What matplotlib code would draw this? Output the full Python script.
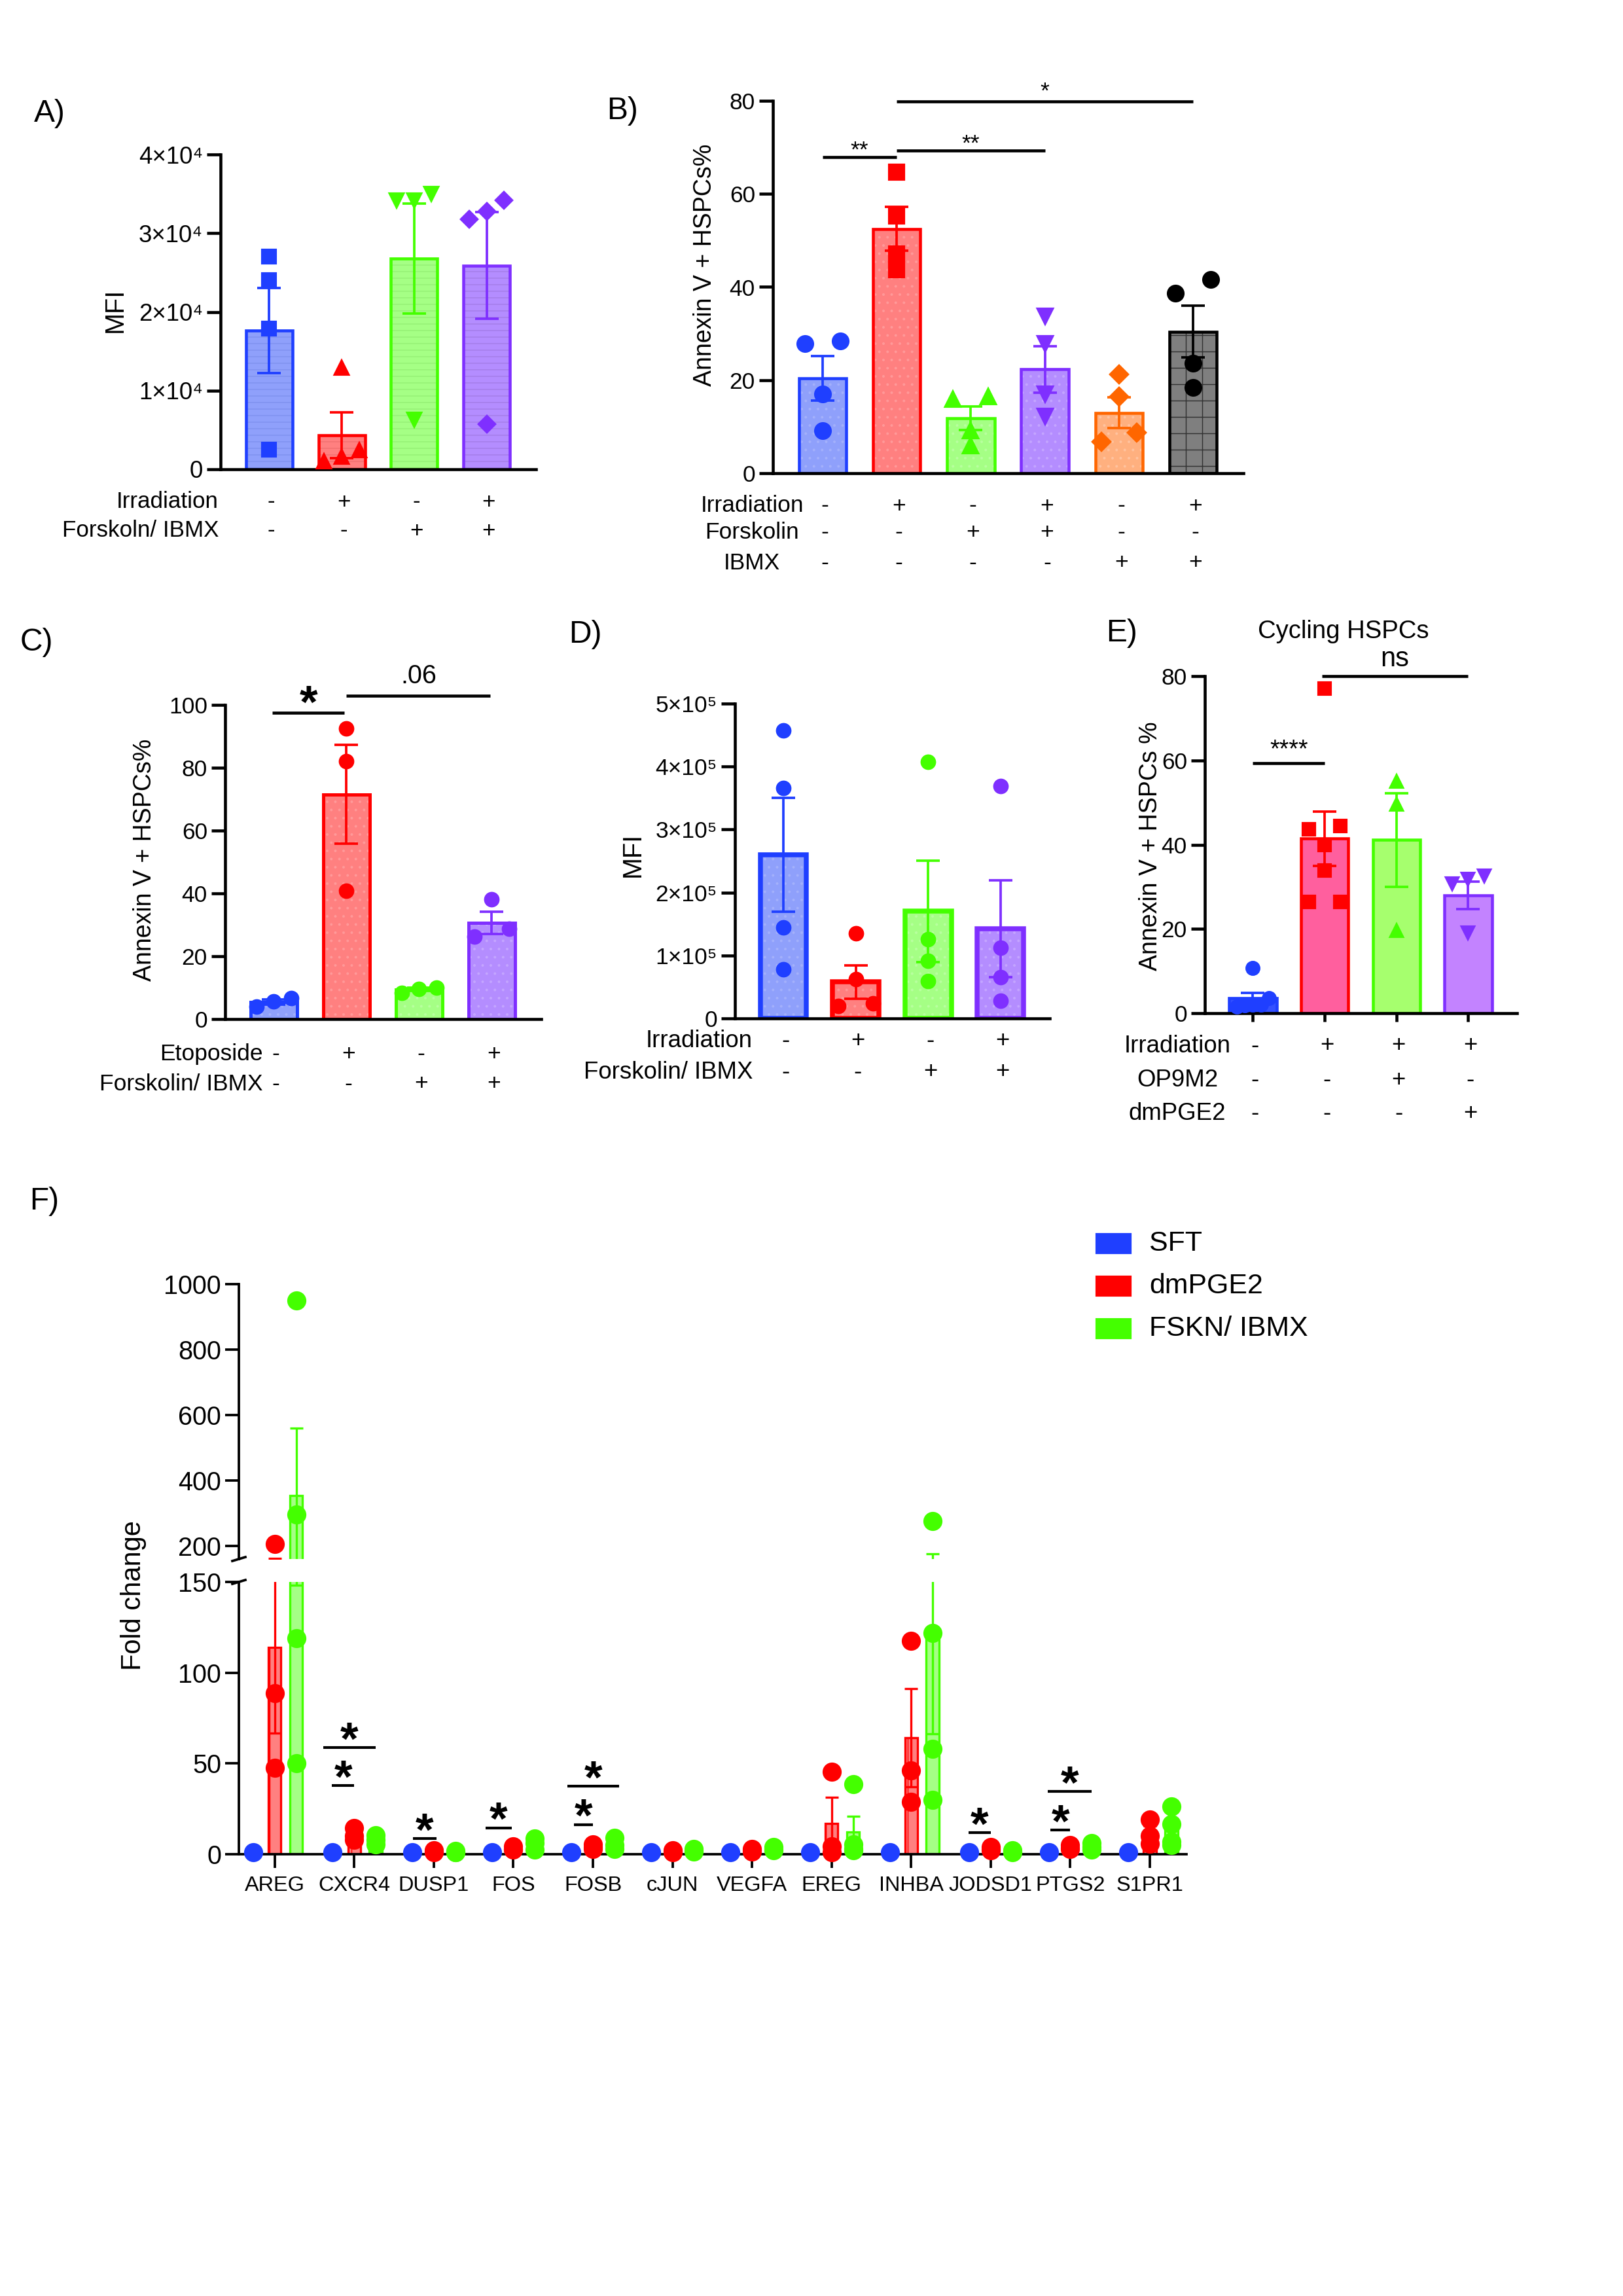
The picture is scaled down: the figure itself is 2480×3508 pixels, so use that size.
import numpy as np
import matplotlib
matplotlib.use("Agg")
import matplotlib.pyplot as plt
from matplotlib.transforms import blended_transform_factory
from matplotlib.patches import Rectangle

plt.rcParams['font.family'] = ['Liberation Sans', 'DejaVu Sans']
plt.rcParams['hatch.linewidth'] = 0.35

W, H = 2480, 3508
fig = plt.figure(figsize=(W / 300, H / 300), dpi=300)


def fx(px):
    return px / W


def fy(py):
    return 1 - py / H


def add_ax(l, t, r, b):
    return fig.add_axes([l / W, 1 - b / H, (r - l) / W, (b - t) / H])


# ---------------- data ----------------
# A) MFI
a_means = [1.76e4, 0.43e4, 2.68e4, 2.59e4]
a_sems = [0.54e4, 0.29e4, 0.70e4, 0.68e4]
a_points = [[2.70e4, 2.40e4, 1.79e4, 0.25e4],
            [1.29e4, 0.24e4, 0.10e4, 0.16e4],
            [3.50e4, 3.42e4, 3.42e4, 0.63e4],
            [3.28e4, 3.42e4, 3.18e4, 0.57e4]]
a_rows = ['Irradiation', 'Forskoln/ IBMX']
a_signs = [['-', '+', '-', '+'], ['-', '-', '+', '+']]

# B) Annexin V+ HSPCs %
b_means = [20.4, 52.5, 11.8, 22.3, 13.0, 30.4]
b_sems = [4.75, 4.7, 2.5, 5.0, 3.3, 5.55]
b_points = [[27.9, 28.4, 17.0, 9.2],
            [64.7, 55.3, 47.1, 43.7],
            [15.9, 16.4, 9.2, 5.9],
            [33.8, 27.9, 17.0, 12.2],
            [21.3, 16.4, 6.8, 8.7],
            [38.6, 41.6, 23.6, 18.4]]
b_rows = ['Irradiation', 'Forskolin', 'IBMX']
b_signs = [['-', '+', '-', '+', '-', '+'],
           ['-', '-', '+', '+', '-', '-'],
           ['-', '-', '-', '-', '+', '+']]

# C) Etoposide
c_means = [5.4, 71.5, 9.4, 30.6]
c_sems = [0.8, 15.75, 0.5, 3.5]
c_points = [[4.0, 6.7, 5.6], [92.5, 82.0, 40.9], [8.4, 9.9, 9.6], [38.2, 26.3, 28.8]]
c_rows = ['Etoposide', 'Forskolin/ IBMX']
c_signs = [['-', '+', '-', '+'], ['-', '-', '+', '+']]

# D) MFI
d_means = [2.60e5, 0.58e5, 1.70e5, 1.42e5]
d_sems = [0.905e5, 0.265e5, 0.805e5, 0.77e5]
d_points = [[4.57e5, 3.66e5, 1.45e5, 0.78e5],
            [1.35e5, 0.62e5, 0.20e5, 0.24e5],
            [4.08e5, 1.26e5, 0.91e5, 0.59e5],
            [3.69e5, 1.12e5, 0.66e5, 0.28e5]]
d_rows = ['Irradiation', 'Forskolin/ IBMX']
d_signs = [['-', '+', '-', '+'], ['-', '-', '+', '+']]

# E) Cycling HSPCs
e_means = [3.6, 41.4, 41.1, 28.0]
e_sems = [1.2, 6.5, 11.05, 3.25]
e_points = [[10.7, 3.5, 2.0, 2.0, 1.8, 1.6],
            [77.1, 43.7, 44.5, 40.0, 33.8, 26.4, 26.4],
            [55.0, 49.6, 19.5],
            [32.6, 31.8, 30.8, 19.1]]
e_rows = ['Irradiation', 'OP9M2', 'dmPGE2']
e_signs = [['-', '+', '+', '+'], ['-', '-', '+', '-'], ['-', '-', '-', '+']]

# F) fold change per gene
genes = ['AREG', 'CXCR4', 'DUSP1', 'FOS', 'FOSB', 'cJUN', 'VEGFA', 'EREG',
         'INHBA', 'JODSD1', 'PTGS2', 'S1PR1']
f_conditions = ['SFT', 'dmPGE2', 'FSKN/ IBMX']
f_sft = [[1.0] for _ in genes]
f_pge = [[206, 88.6, 47.5], [14.6, 10.1, 8.1], [2.0, 1.5, 1.0], [4.5, 3.0, 2.5],
         [5.5, 4.0, 3.0], [2.0, 1.5, 1.0], [3.0, 2.0, 1.5], [45.5, 4.5, 1.0],
         [117.4, 46.0, 29.0], [4.0, 3.0, 2.0], [5.0, 3.5, 3.0], [19.0, 10.0, 5.6]]
f_fsk = [[951, 296, 119, 50], [10.5, 8.0, 5.5], [1.8, 1.2, 1.0], [8.5, 6.0, 2.5],
         [9.0, 5.0, 3.0], [3.0, 2.0, 1.5], [4.0, 3.0, 2.0], [38.5, 5.5, 3.0, 2.0],
         [276, 121.7, 58, 29.8], [2.0, 1.5, 1.0], [6.0, 4.0, 2.5], [26.5, 16.5, 7.0, 5.0]]
# (gene index, left, right, height) of the significance brackets
f_sig = [(1, -0.28, 0.0, 37.9), (1, -0.39, 0.27, 58.8), (2, -0.26, 0.03, 8.6),
         (3, -0.35, -0.02, 14.6), (4, -0.24, 0.0, 16.4), (4, -0.32, 0.33, 37.4),
         (9, -0.28, 0.0, 11.9), (10, -0.25, 0.0, 13.4), (10, -0.28, 0.27, 34.6)]

# colours
BLUE, BLUE_F = '#1f3fff', '#8fa0fb'
RED, RED_F = '#ff0000', '#ff8080'
GREEN, GREEN_F = '#44ff00', '#a5ff85'
PURPLE, PURPLE_F = '#7f2fff', '#b48dff'
ORANGE, ORANGE_F = '#ff6600', '#ffb07f'


def swarm(vals, thresh, step):
    vals = np.asarray(vals, dtype=float)
    order = np.argsort(vals)
    off = np.zeros(len(vals))
    groups, cur = [], [order[0]]
    for a, b in zip(order[:-1], order[1:]):
        if vals[b] - vals[a] < thresh:
            cur.append(b)
        else:
            groups.append(cur)
            cur = [b]
    groups.append(cur)
    for g in groups:
        if len(g) > 1:
            off[g] = np.linspace(-step, step, len(g))
    return off


def style_axis(ax, lw=1.1, xticks=False, labelsize=8.5):
    for s in ['top', 'right']:
        ax.spines[s].set_visible(False)
    for s in ['left', 'bottom']:
        ax.spines[s].set_linewidth(lw)
    ax.tick_params(axis='y', length=5, width=lw, labelsize=labelsize, pad=1.5)
    if xticks:
        ax.tick_params(axis='x', length=3, width=lw, labelbottom=False)
    else:
        ax.tick_params(axis='x', length=0, labelbottom=False)


def bar_panel(ax, means, sems, points, markers, edges, fills, thresh, step=0.24,
              ms=5.2, lw=1.1, hatch=None, hatchcols=None, width=0.64):
    for i, m in enumerate(means):
        hc = hatchcols[i] if hatchcols else fills[i]
        ax.bar(i, m, width, color=fills[i], edgecolor=hc, linewidth=0,
               hatch=hatch[i] if hatch else None, zorder=2)
        ax.bar(i, m, width, facecolor='none', edgecolor=edges[i], linewidth=lw, zorder=2.5)
        ax.errorbar(i, m, yerr=sems[i], fmt='none', ecolor=edges[i], elinewidth=0.9,
                    capsize=4.3, capthick=0.9, zorder=3)
        off = swarm(points[i], thresh, step)
        size = ms * 0.8 if markers[i] == 'D' else ms
        ax.plot(i + off, points[i], ls='none', marker=markers[i], ms=size, color=edges[i],
                mec=edges[i], zorder=4, clip_on=False)
    ax.set_xlim(-0.67, len(means) - 1 + 0.68)


def sign_table(ax, rows, signs, row_px, label_x, ha='right', size=8.5):
    tr = blended_transform_factory(ax.transData, fig.transFigure)
    for r, lab in enumerate(rows):
        fig.text(fx(label_x), fy(row_px[r]), lab, ha=ha, va='center', fontsize=size)
        for i, s in enumerate(signs[r]):
            ax.text(i + 0.03, fy(row_px[r]), s, transform=tr, ha='center', va='center',
                    fontsize=size)


def sig(ax, x0, x1, y, label, size=8.5, dy=1.0, weight='normal', lw=1.1):
    ax.plot([x0, x1], [y, y], color='k', lw=lw, clip_on=False, solid_capstyle='butt')
    ax.annotate(label, xy=((x0 + x1) / 2, y), xytext=(0, dy), textcoords='offset points',
                ha='center', va='baseline', fontsize=size, fontweight=weight,
                annotation_clip=False)


def panel_label(x, y, s):
    fig.text(fx(x), fy(y), s, ha='left', va='center', fontsize=11.5)


# ---------------- A ----------------
axA = add_ax(337, 236, 819, 717)
bar_panel(axA, a_means, a_sems, a_points, ['s', '^', 'v', 'D'],
          [BLUE, RED, GREEN, PURPLE], [BLUE_F, RED_F, GREEN_F, PURPLE_F],
          thresh=0.17e4, ms=5.0, hatch=['-----'] * 4,
          hatchcols=['#7f92f0', '#f07070', '#95f075', '#a47de8'])
axA.set_ylim(0, 4e4)
axA.set_yticks([0, 1e4, 2e4, 3e4, 4e4])
axA.set_yticklabels(['0', '1×10⁴', '2×10⁴', '3×10⁴', '4×10⁴'])
style_axis(axA, labelsize=8.8)
fig.text(fx(176), fy(474), 'MFI', rotation=90, ha='center', va='center', fontsize=9.5)
sign_table(axA, a_rows, a_signs, [767, 811], 334, ha='right', size=8.4)
panel_label(52, 173, 'A)')

# ---------------- B ----------------
axB = add_ax(1181, 154, 1900, 723)
bar_panel(axB, b_means, b_sems, b_points, ['o', 's', '^', 'v', 'D', 'o'],
          [BLUE, RED, GREEN, PURPLE, ORANGE, 'k'],
          [BLUE_F, RED_F, GREEN_F, PURPLE_F, ORANGE_F, '#7f7f7f'],
          thresh=3.25, ms=5.5, hatch=['....'] * 5 + ['++'],
          hatchcols=['#a3b0fb', '#ff9999', '#b8ff9f', '#c4a5ff', '#ffc39f', '#333333'])
axB.set_ylim(0, 80)
axB.set_yticks([0, 20, 40, 60, 80])
style_axis(axB)
fig.text(fx(1077), fy(405), 'Annexin V + HSPCs%', rotation=90, ha='center', va='center',
         fontsize=9)
sign_table(axB, b_rows, b_signs, [773, 814, 860], 1149, ha='center', size=8.5)
sig(axB, 0, 1, 67.9, '**', size=8.5, dy=0)
sig(axB, 1, 3, 69.3, '**', size=8.5, dy=0)
sig(axB, 1, 5, 79.8, '*', size=8.5, dy=1.5)
panel_label(927, 170, 'B)')

# ---------------- C ----------------
axC = add_ax(344, 1077, 827, 1557)
bar_panel(axC, c_means, c_sems, c_points, ['o'] * 4,
          [BLUE, RED, GREEN, PURPLE], [BLUE_F, RED_F, GREEN_F, PURPLE_F],
          thresh=4.0, ms=4.7, lw=1.2, hatch=['....'] * 4,
          hatchcols=['#a3b0fb', '#ff9999', '#b8ff9f', '#c4a5ff'])
axC.set_ylim(0, 100)
axC.set_yticks([0, 20, 40, 60, 80, 100])
style_axis(axC)
fig.text(fx(221), fy(1314), 'Annexin V + HSPCs%', rotation=90, ha='center', va='center',
         fontsize=9)
sign_table(axC, c_rows, c_signs, [1611, 1656], 402, ha='right', size=8.5)
sig(axC, -0.02, 0.97, 97.6, '*', size=17, dy=-2, weight='bold')
sig(axC, 1.0, 2.98, 102.9, '.06', size=9.5, dy=4.5)
panel_label(31, 981, 'C)')

# ---------------- D ----------------
axD = add_ax(1123, 1075, 1604, 1556)
bar_panel(axD, d_means, d_sems, d_points, ['o'] * 4,
          [BLUE, RED, GREEN, PURPLE], [BLUE_F, RED_F, GREEN_F, PURPLE_F],
          thresh=0.2e5, ms=4.7, lw=1.8, hatch=['....'] * 4,
          hatchcols=['#a3b0fb', '#ff9999', '#b8ff9f', '#c4a5ff'])
axD.set_ylim(0, 5e5)
axD.set_yticks([0, 1e5, 2e5, 3e5, 4e5, 5e5])
axD.set_yticklabels(['0', '1×10⁵', '2×10⁵', '3×10⁵', '4×10⁵', '5×10⁵'])
style_axis(axD)
fig.text(fx(967), fy(1306), 'MFI', rotation=90, ha='center', va='center', fontsize=9.5)
sign_table(axD, d_rows, d_signs, [1590, 1638], 1150, ha='right', size=8.8)
panel_label(869, 969, 'D)')

# ---------------- E ----------------
axE = add_ax(1841, 1033, 2318, 1548)
bar_panel(axE, e_means, e_sems, e_points, ['o', 's', '^', 'v'],
          [BLUE, RED, GREEN, PURPLE], ['#3551ff', '#ff5f9e', '#a6ff6e', '#c383ff'],
          thresh=2.8, step=0.22, ms=4.5, lw=1.1, width=0.66)
axE.set_ylim(0, 80)
axE.set_yticks([0, 20, 40, 60, 80])
axE.set_xticks(range(4))
style_axis(axE, xticks=True)
fig.text(fx(1758), fy(1293), 'Annexin V + HSPCs %', rotation=90, ha='center', va='center',
         fontsize=9)
fig.text(fx(2053), fy(965), 'Cycling HSPCs', ha='center', va='center', fontsize=9.2)
sign_table(axE, e_rows, e_signs, [1598, 1650, 1702], 1799, ha='center', size=8.8)
sig(axE, 0.0, 1.0, 59.3, '****', size=9, dy=2.5)
sig(axE, 0.96, 3.0, 80.0, 'ns', size=10, dy=3.5)
panel_label(1690, 968, 'E)')

# ---------------- F ----------------
axFu = add_ax(365, 1962, 1813, 2382)
axFl = add_ax(365, 2417, 1813, 2833)
f_sets = [f_sft, f_pge, f_fsk]
f_edges = [BLUE, RED, GREEN]
f_fills = [BLUE_F, RED_F, GREEN_F]
f_offsets = [-0.27, 0.0, 0.27]
xg = np.arange(len(genes))
for ax, lo, hi in [(axFu, 160, 1000), (axFl, 0, 150)]:
    for k, data in enumerate(f_sets):
        means = np.array([np.mean(v) for v in data])
        sems = np.array([np.std(v, ddof=1) / np.sqrt(len(v)) if len(v) > 1 else 0 for v in data])
        xs = xg + f_offsets[k]
        ax.bar(xs, means, 0.16, color=f_fills[k], edgecolor=f_edges[k], linewidth=0.8,
               hatch='||', zorder=2)
        ax.errorbar(xs, means, yerr=sems, fmt='none', ecolor=f_edges[k], elinewidth=0.8,
                    capsize=2.4, capthick=0.8, zorder=3)
        for g, vals in enumerate(data):
            vals = np.array(vals)
            sel = vals[(vals >= lo) & (vals <= hi)]
            ax.plot(np.full(len(sel), xs[g]), sel, ls='none', marker='o', ms=6,
                    color=f_edges[k], zorder=4, clip_on=False)
    ax.set_xlim(-0.45, 11.46)
    ax.set_ylim(lo, hi)
    for s in ['top', 'right']:
        ax.spines[s].set_visible(False)
    for s in ['left', 'bottom']:
        ax.spines[s].set_linewidth(0.9)
    ax.tick_params(axis='y', length=5, width=0.9, labelsize=9.5, pad=1.5)

axFu.spines['bottom'].set_visible(False)
axFu.tick_params(axis='x', bottom=False, labelbottom=False)
axFu.set_yticks([200, 400, 600, 800, 1000])
axFl.set_yticks([0, 50, 100, 150])
axFl.set_xticks(xg)
axFl.set_xticklabels(genes, fontsize=7.8)
axFl.tick_params(axis='x', length=5, width=0.9, pad=3)

# axis break marks
for ypx in (2382, 2417):
    fig.add_artist(plt.Line2D([fx(355), fx(375)], [fy(ypx + 3), fy(ypx - 3)],
                              color='k', lw=0.9))

for g, x0, x1, y in f_sig:
    sig(axFl, g + x0, g + x1, y, '*', size=17, dy=-2.5, weight='bold', lw=1.0)

fig.text(fx(204), fy(2438), 'Fold change', rotation=90, ha='center', va='center',
         fontsize=10)

# legend
for k, name in enumerate(f_conditions):
    yc = 1900 + 65 * k
    fig.add_artist(Rectangle((fx(1676), fy(yc + 14)), 51 / W, 28 / H,
                             transform=fig.transFigure, color=f_edges[k]))
    fig.text(fx(1756), fy(yc), name, ha='left', va='center', fontsize=10.3)

panel_label(45, 1835, 'F)')

fig.savefig('out.png', dpi=300)
